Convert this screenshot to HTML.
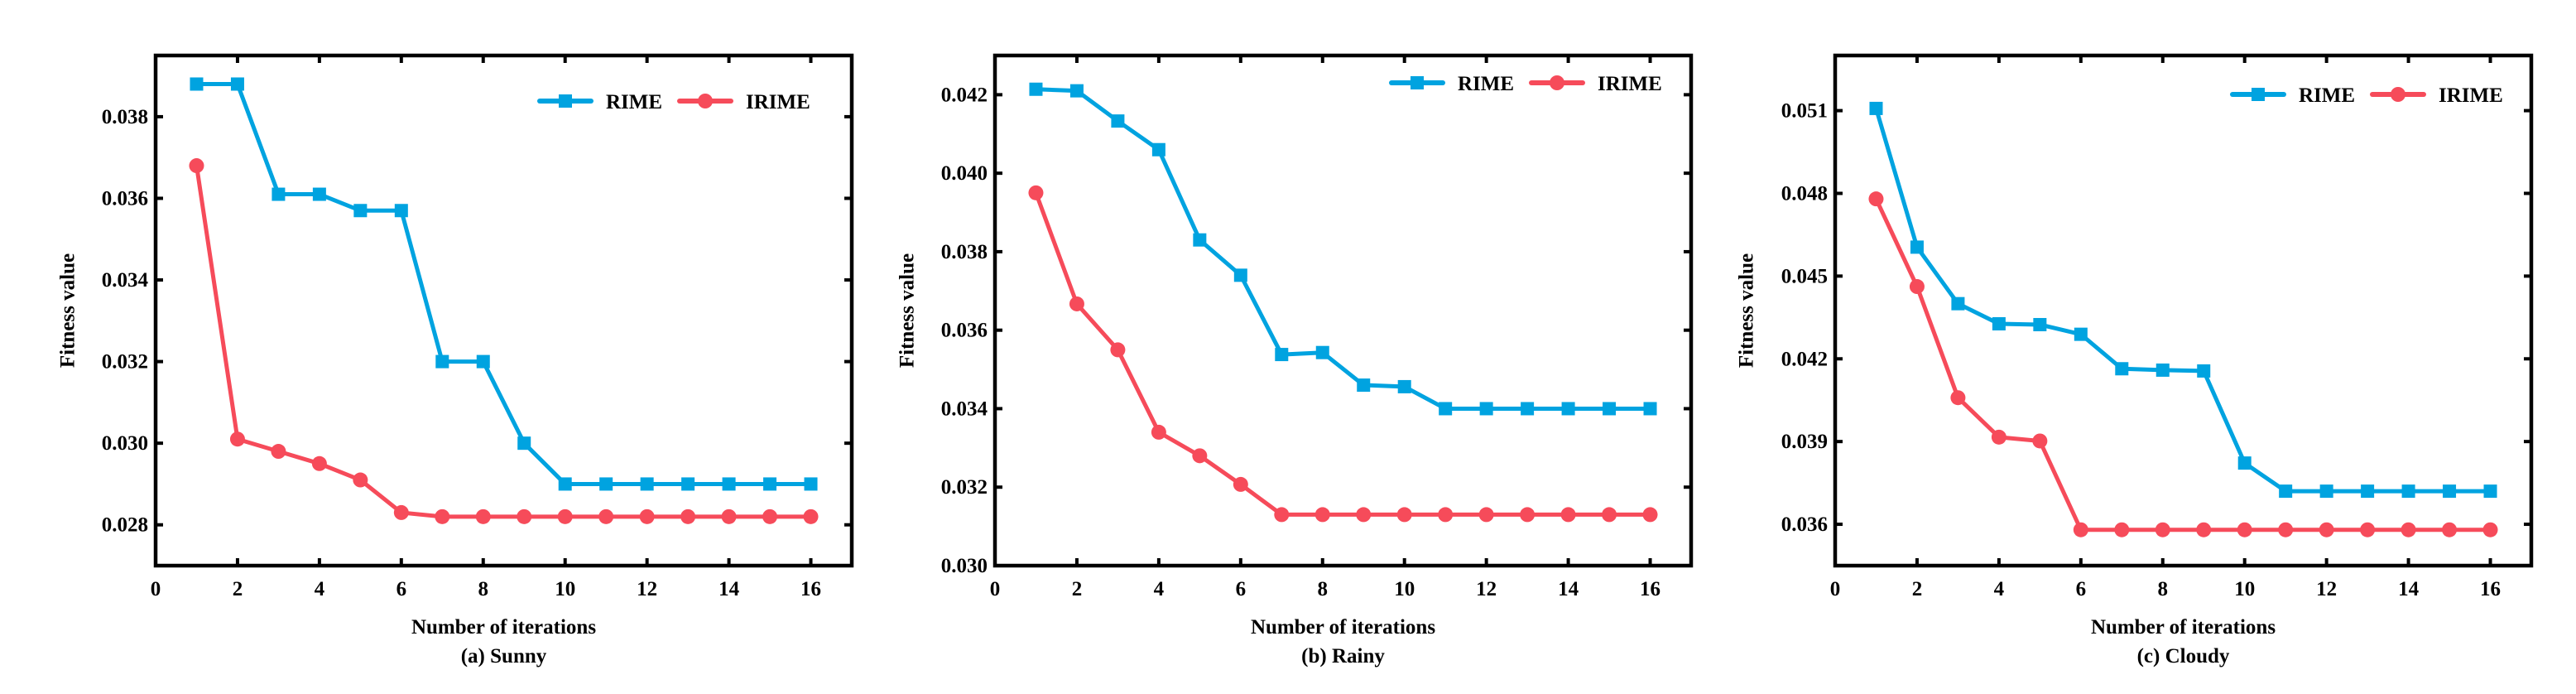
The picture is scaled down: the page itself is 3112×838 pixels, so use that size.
<!DOCTYPE html>
<html><head><meta charset="utf-8"><style>
html,body{margin:0;padding:0;background:#fff;}
svg{display:block;}
text{font-family:"Liberation Serif","Times New Roman",serif;font-weight:bold;fill:#000;}
</style></head><body>
<svg id="fig" width="3112" height="838" viewBox="0 0 3112 838" xmlns="http://www.w3.org/2000/svg"></svg>
<script>
// ---- data ----
const iterations = [1,2,3,4,5,6,7,8,9,10,11,12,13,14,15,16];
const xTicks = [0,2,4,6,8,10,12,14,16];
const sunnyRIME  = [0.0388,0.0388,0.0361,0.0361,0.0357,0.0357,0.0320,0.0320,0.0300,0.0290,0.0290,0.0290,0.0290,0.0290,0.0290,0.0290];
const sunnyIRIME = [0.0368,0.0301,0.0298,0.0295,0.0291,0.0283,0.0282,0.0282,0.0282,0.0282,0.0282,0.0282,0.0282,0.0282,0.0282,0.0282];
const rainyRIME  = [0.04214,0.0421,0.04133,0.0406,0.0383,0.0374,0.03538,0.03543,0.0346,0.03456,0.0340,0.0340,0.0340,0.0340,0.0340,0.0340];
const rainyIRIME = [0.0395,0.03667,0.0355,0.0334,0.0328,0.03207,0.0313,0.0313,0.0313,0.0313,0.0313,0.0313,0.0313,0.0313,0.0313,0.0313];
const cloudyRIME  = [0.05108,0.04605,0.0440,0.04327,0.04324,0.04289,0.04164,0.04159,0.04156,0.03822,0.0372,0.0372,0.0372,0.0372,0.0372,0.0372];
const cloudyIRIME = [0.0478,0.04462,0.04059,0.03916,0.03902,0.0358,0.0358,0.0358,0.0358,0.0358,0.0358,0.0358,0.0358,0.0358,0.0358,0.0358];
const sunnyYTicks  = [0.028,0.030,0.032,0.034,0.036,0.038];
const rainyYTicks  = [0.030,0.032,0.034,0.036,0.038,0.040,0.042];
const cloudyYTicks = [0.036,0.039,0.042,0.045,0.048,0.051];
const seriesNames = ["RIME","IRIME"];
const captions = ["(a) Sunny","(b) Rainy","(c) Cloudy"];

const NS="http://www.w3.org/2000/svg";
const svg=document.getElementById('fig');
const BLUE="#00A3E0", RED="#F64B5A";
function mk(tag,attrs,parent){const e=document.createElementNS(NS,tag);for(const k in attrs)e.setAttribute(k,attrs[k]);(parent||svg).appendChild(e);return e;}

const panels=[
 {key:'sunny',left:188,ymin:0.027,ymax:0.0395,yt:sunnyYTicks,r:sunnyRIME,i:sunnyIRIME,legY:122,legX:652,titleX:82},
 {key:'rainy',left:1202,ymin:0.030,ymax:0.043,yt:rainyYTicks,r:rainyRIME,i:rainyIRIME,legY:100,legX:1681,titleX:1096},
 {key:'cloudy',left:2217,ymin:0.0345,ymax:0.053,yt:cloudyYTicks,r:cloudyRIME,i:cloudyIRIME,legY:114,legX:2697,titleX:2110}
];
const TOP=67,BOT=683,W=841,XMAX=17;

panels.forEach((p,pi)=>{
 const g=mk('g',{});
 
 
 const L=p.left,R=L+W;
 const X=v=>L+v/XMAX*W;
 const Y=v=>BOT-(v-p.ymin)/(p.ymax-p.ymin)*(BOT-TOP);
 // ticks
 xTicks.forEach(t=>{
  const x=X(t);
  if(t>0){
   const a=mk('line',{x1:x,x2:x,y1:BOT,y2:BOT-9,stroke:'#000','stroke-width':4},g);
   
   const b=mk('line',{x1:x,x2:x,y1:TOP,y2:TOP+9,stroke:'#000','stroke-width':4},g);
   
  }
  const tl=mk('text',{x:x,y:719,'font-size':25,'text-anchor':'middle'},g);
  tl.textContent=String(t);
  
 });
 p.yt.forEach(t=>{
  const y=Y(t);
  const a=mk('line',{x1:L,x2:L+9,y1:y,y2:y,stroke:'#000','stroke-width':4},g);
  
  const b=mk('line',{x1:R,x2:R-9,y1:y,y2:y,stroke:'#000','stroke-width':4},g);
  
  const tl=mk('text',{x:L-9,y:y+8,'font-size':25,'text-anchor':'end'},g);
  tl.textContent=t.toFixed(3);
  
 });
 // frame
 const fr=mk('rect',{x:L,y:TOP,width:W,height:BOT-TOP,fill:'none',stroke:'#000','stroke-width':4.5},g);
 
 // series
 [[p.r,BLUE,'rime'],[p.i,RED,'irime']].forEach(([vals,col,nm])=>{
  const pts=vals.map((v,k)=>X(iterations[k])+','+Y(v)).join(' ');
  const pl=mk('polyline',{points:pts,fill:'none',stroke:col,'stroke-width':5,'stroke-linejoin':'round'},g);
  
  vals.forEach((v,k)=>{
   let m;
   if(nm==='rime') m=mk('rect',{x:X(iterations[k])-8,y:Y(v)-8,width:16,height:16,fill:col},g);
   else m=mk('circle',{cx:X(iterations[k]),cy:Y(v),r:9,fill:col},g);
   
  });
 });
 // legend
 const lg=mk('g',{},g);
 
 const lx=p.legX,ly=p.legY;
 const l1=mk('line',{x1:lx,x2:lx+62,y1:ly,y2:ly,stroke:BLUE,'stroke-width':6,'stroke-linecap':'round'},lg);
 
 const m1=mk('rect',{x:lx+23,y:ly-8,width:16,height:16,fill:BLUE},lg);
 
 const t1=mk('text',{x:lx+80,y:ly+9,'font-size':25},lg);t1.textContent=seriesNames[0];
 
 const ox=lx+169;
 const l2=mk('line',{x1:ox,x2:ox+62,y1:ly,y2:ly,stroke:RED,'stroke-width':6,'stroke-linecap':'round'},lg);
 
 const m2=mk('circle',{cx:ox+31,cy:ly,r:9,fill:RED},lg);
 
 const t2=mk('text',{x:ox+80,y:ly+9,'font-size':25},lg);t2.textContent=seriesNames[1];
 
 // titles
 const yt=mk('text',{x:p.titleX,y:375,'font-size':25,'text-anchor':'middle',transform:'rotate(-90 '+p.titleX+' 375)','dominant-baseline':'central'},g);
 yt.textContent='Fitness value';
 
 const xt=mk('text',{x:(L+R)/2,y:765,'font-size':25,'text-anchor':'middle'},g);
 xt.textContent='Number of iterations';
 
 const cp=mk('text',{x:(L+R)/2,y:800,'font-size':25,'text-anchor':'middle'},g);
 cp.textContent=captions[pi];
 
});
</script>
</body></html>
